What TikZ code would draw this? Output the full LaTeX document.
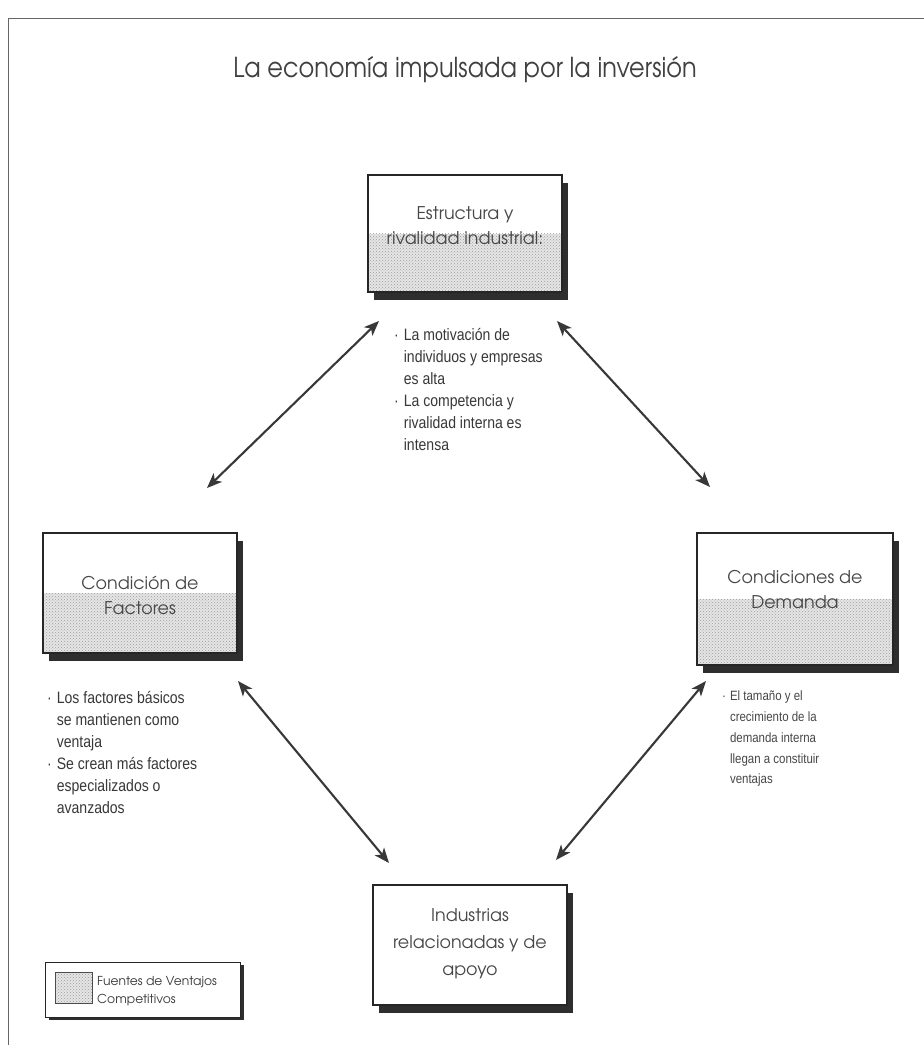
\documentclass[tikz,border=0pt]{standalone}
\usepackage{fontspec}
\setmainfont{Liberation Sans}
\newfontfamily\gothic{texgyreadventor-regular.otf}
\newfontfamily\narrow{Liberation Sans}[FakeStretch=0.85]
\usetikzlibrary{arrows.meta,shadows,patterns}
\tikzset{
  stipplefill/.style={fill=black!10},
  stipplepat/.style={pattern=crosshatch dots, pattern color=black!38},
  factorbox/.style={draw=black!85, line width=1.2pt, fill=white,
    minimum width=194pt, minimum height=117pt, inner sep=0pt,
    drop shadow={shadow xshift=6pt, shadow yshift=-8pt, fill=black!82, opacity=1}},
  halfstipple/.style={path picture={
    \fill[stipplefill] (path picture bounding box.west) rectangle (path picture bounding box.south east);
    \fill[stipplepat] (path picture bounding box.west) rectangle (path picture bounding box.south east);}},
  boxtext/.style={font=\gothic\fontsize{17.5}{25}\selectfont, text=black!72, align=center, inner sep=0pt},
  bullettext/.style={font=\narrow\fontsize{16.5}{22}\selectfont, text=black!78, inner sep=0pt, anchor=north west},
  smallbullet/.style={font=\narrow\fontsize{13.5}{20.8}\selectfont, text=black!72, inner sep=0pt, anchor=north west},
  conn/.style={{Stealth[length=15pt,width=12pt,inset=4pt]}-{Stealth[length=15pt,width=12pt,inset=4pt]}, line width=2.1pt, draw=black!78},
  frameline/.style={draw=black!60, line width=0.9pt}
}
\begin{document}
\begin{tikzpicture}[x=1pt,y=-1pt]
\useasboundingbox (0,0) rectangle (924,1045);
\fill[white] (0,0) rectangle (924,1045);
\draw[frameline] (8,1045) -- (8,18) -- (924,18);

% title
\node[font=\gothic\fontsize{24.5}{30}\selectfont, text=black!75, inner sep=0pt] (title) at (465,70) {\scalebox{0.98}[1.12]{La economía impulsada por la inversión}};

% boxes
\node[factorbox, halfstipple] (estructura) at (465,233.5) {};
\node[boxtext] (estructuraT) at (465,225.5) {Estructura y\\rivalidad industrial:};

\node[factorbox, halfstipple, minimum height=120pt] (factores) at (140,593) {};
\node[boxtext] (factoresT) at (140,595) {Condición de\\Factores};

\node[factorbox, halfstipple, minimum width=196pt, minimum height=132pt] (demanda) at (795,599) {};
\node[boxtext] (demandaT) at (795,590) {Condiciones de\\Demanda};

\node[factorbox, minimum height=120pt] (industrias) at (470,945) {};
\node[boxtext, font=\gothic\fontsize{17.5}{27}\selectfont] (industriasT) at (470,944) {Industrias\\relacionadas y de\\apoyo};

% bullet texts
\node[bullettext] (estructuraB) at (394,324.6) {\begin{tabular}{@{}l@{\hspace{5pt}}l@{}}
·&La motivación de\\
 &individuos y empresas\\
 &es alta\\
·&La competencia y\\
 &rivalidad interna es\\
 &intensa
\end{tabular}};

\node[bullettext] (factoresB) at (47,687.6) {\begin{tabular}{@{}l@{\hspace{5pt}}l@{}}
·&Los factores básicos\\
 &se mantienen como\\
 &ventaja\\
·&Se crean más factores\\
 &especializados o\\
 &avanzados
\end{tabular}};

\node[smallbullet] (demandaB) at (722,686) {\begin{tabular}{@{}l@{\hspace{4pt}}l@{}}
·&El tamaño y el\\
 &crecimiento de la\\
 &demanda interna\\
 &llegan a constituir\\
 &ventajas
\end{tabular}};

% connectors
\coordinate (a1) at (379,321);
\coordinate (b1) at (207,488);
\coordinate (a2) at (557,321);
\coordinate (b2) at (710,487);
\coordinate (a3) at (238,681);
\coordinate (b3) at (389,863);
\coordinate (a4) at (706,681);
\coordinate (b4) at (556,860);
\draw[conn] (a1) -- (b1);
\draw[conn] (a2) -- (b2);
\draw[conn] (a3) -- (b3);
\draw[conn] (a4) -- (b4);

% legend
\node[draw=black!85, line width=1pt, fill=white, minimum width=195pt, minimum height=55pt, inner sep=0pt,
  drop shadow={shadow xshift=4pt, shadow yshift=-3pt, fill=black!82, opacity=1}] (legend) at (142.5,989.5) {};
\node[draw=black!70, line width=0.8pt, stipplefill, minimum width=37pt, minimum height=31pt, inner sep=0pt,
  path picture={\fill[stipplepat] (path picture bounding box.south west) rectangle (path picture bounding box.north east);}] (legendkey) at (73.5,987.5) {};
\node[font=\gothic\fontsize{12.3}{18}\selectfont, text=black!78, align=left, inner sep=0pt, anchor=west] (legendT) at (97,991) {Fuentes de Ventajos\\Competitivos};
\end{tikzpicture}
\end{document}
